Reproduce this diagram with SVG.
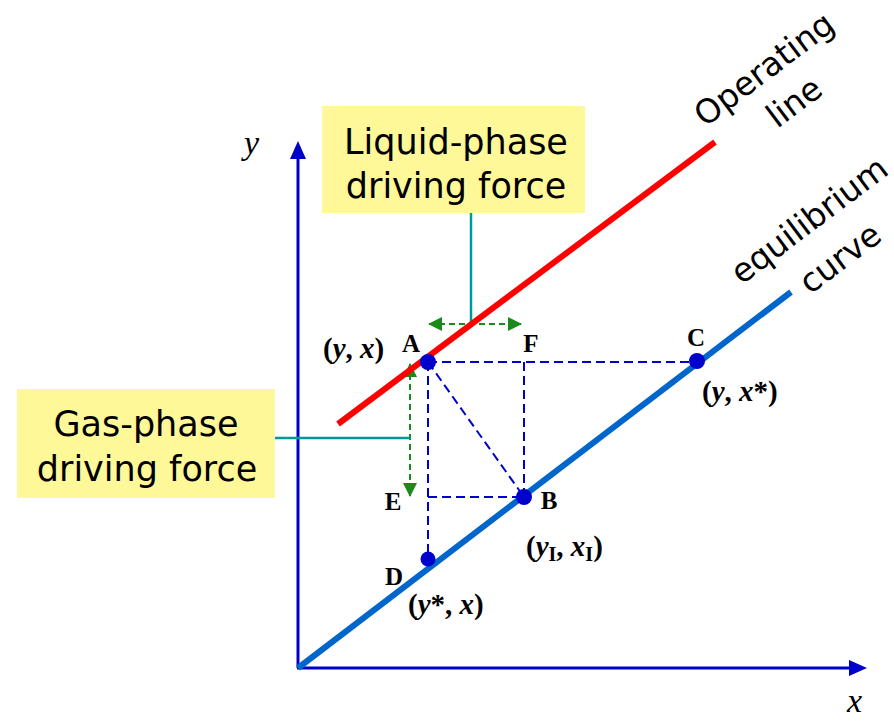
<svg xmlns="http://www.w3.org/2000/svg" width="894" height="722" viewBox="0 0 894 722">
<defs>
<style>
.box{fill:#FFF899;}
.bt{font-family:"DejaVu Sans",sans-serif;font-size:35px;fill:#000;text-anchor:middle;}
.rt{font-family:"DejaVu Sans",sans-serif;font-size:33px;fill:#000;text-anchor:middle;dominant-baseline:central;}
.lbl{font-family:"Liberation Serif",serif;font-size:25px;font-weight:bold;fill:#000;text-anchor:middle;}
.co{font-family:"Liberation Serif",serif;font-size:29px;font-weight:bold;fill:#000;}
.it{font-style:italic;}
.ax{font-family:"Liberation Serif",serif;font-size:34px;font-style:italic;fill:#000;}
.axis{stroke:#0000CC;stroke-width:3;fill:none;}
.dash{stroke:#0000CC;stroke-width:2;stroke-dasharray:9,5;fill:none;}
.gdash{stroke:#1A8A1A;stroke-width:2;stroke-dasharray:6,4;fill:none;}
.teal{stroke:#009999;stroke-width:2.5;fill:none;}
.dot{fill:#0000CC;}
</style>
<marker id="garr" viewBox="0 0 14 14" refX="13" refY="7" markerWidth="14" markerHeight="14" markerUnits="userSpaceOnUse" orient="auto-start-reverse">
<path d="M0,0 L14,7 L0,14 Z" fill="#1A8A1A"/>
</marker>
</defs>
<rect width="894" height="722" fill="#fff"/>

<g id="axes">
<line class="axis" x1="298" y1="668" x2="298" y2="156"/>
<path d="M298,141 L290,159 L306,159 Z" fill="#0000CC"/>
<line class="axis" x1="297" y1="668" x2="852" y2="668"/>
<path d="M867,668 L849,660 L849,676 Z" fill="#0000CC"/>
<text class="ax" x="244" y="154">y</text>
<text class="ax" x="847" y="712">x</text>
</g>

<g id="connectors">
<line class="dash" x1="428" y1="362" x2="697" y2="362"/>
<line class="dash" x1="428" y1="362" x2="428" y2="558"/>
<line class="dash" x1="524" y1="362" x2="524" y2="497"/>
<line class="dash" x1="428" y1="497" x2="524" y2="497"/>
<line class="dash" x1="428" y1="362" x2="524" y2="497"/>
<line class="gdash" x1="429" y1="324" x2="521" y2="324" marker-start="url(#garr)" marker-end="url(#garr)"/>
<line class="gdash" x1="410" y1="364" x2="410" y2="496" marker-start="url(#garr)" marker-end="url(#garr)"/>
<line class="teal" x1="471" y1="213" x2="471" y2="324"/>
<line class="teal" x1="275" y1="438" x2="410" y2="438"/>
</g>

<g id="equilibrium-curve">
<line x1="298" y1="668" x2="791" y2="292" stroke="#0066CC" stroke-width="6"/>
<text class="rt" transform="translate(809,220) rotate(-37)">equilibrium</text>
<text class="rt" transform="translate(840,258) rotate(-37)">curve</text>
</g>

<g id="operating-line">
<line x1="338" y1="424" x2="715" y2="142" stroke="#FF0000" stroke-width="6"/>
<text class="rt" transform="translate(764,69) rotate(-37)">Operating</text>
<text class="rt" transform="translate(794,102) rotate(-37)">line</text>
</g>

<g id="liquid-box">
<rect class="box" x="322" y="106" width="263" height="107"/>
<text class="bt" x="456" y="154">Liquid-phase</text>
<text class="bt" x="456" y="198">driving force</text>
</g>

<g id="gas-box">
<rect class="box" x="17" y="389" width="258" height="109"/>
<text class="bt" x="146" y="436">Gas-phase</text>
<text class="bt" x="147" y="481">driving force</text>
</g>

<g id="point-A">
<circle class="dot" cx="428" cy="362" r="8"/>
<text class="lbl" x="411" y="352">A</text>
<text class="co" x="323" y="358">(<tspan class="it">y</tspan>, <tspan class="it">x</tspan>)</text>
</g>
<g id="point-F">
<text class="lbl" x="531" y="352">F</text>
</g>
<g id="point-C">
<circle class="dot" cx="697" cy="361" r="8"/>
<text class="lbl" x="696" y="346">C</text>
<text class="co" x="702" y="401">(<tspan class="it">y</tspan>, <tspan class="it">x</tspan>*)</text>
</g>
<g id="point-B">
<circle class="dot" cx="524" cy="497" r="8"/>
<text class="lbl" x="549" y="509">B</text>
<text class="co" x="526" y="556">(<tspan class="it">y</tspan><tspan font-size="20" dy="5">I</tspan><tspan dy="-5">, </tspan><tspan class="it">x</tspan><tspan font-size="20" dy="5">I</tspan><tspan dy="-5">)</tspan></text>
</g>
<g id="point-E">
<text class="lbl" x="393" y="510">E</text>
</g>
<g id="point-D">
<circle class="dot" cx="428" cy="559" r="7.5"/>
<text class="lbl" x="394" y="585">D</text>
<text class="co" x="408" y="614">(<tspan class="it">y</tspan>*, <tspan class="it">x</tspan>)</text>
</g>
</svg>
